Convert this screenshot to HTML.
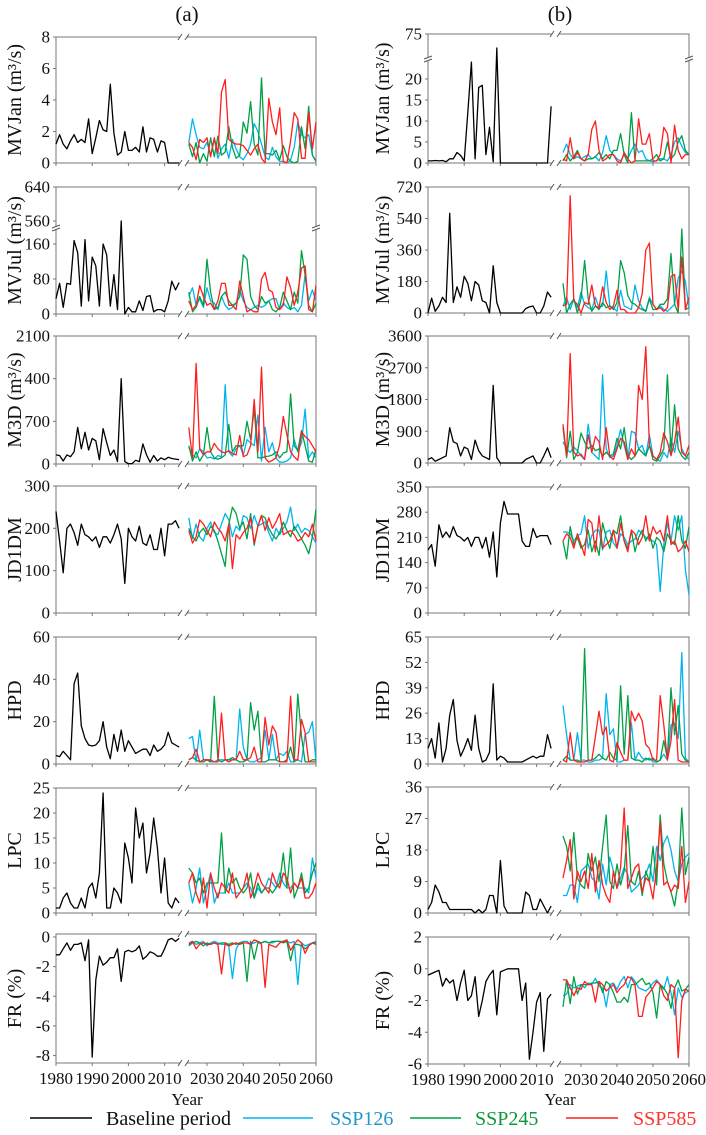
<!DOCTYPE html>
<html><head><meta charset="utf-8">
<style>
html,body{margin:0;padding:0;background:#fff;}
svg, svg text{font-family:"Liberation Serif","DejaVu Serif",serif;}
</style></head>
<body>
<svg id="chart" width="706" height="1130" viewBox="0 0 706 1130" xmlns="http://www.w3.org/2000/svg" font-family="Liberation Serif, serif">
<rect x="0" y="0" width="706" height="1130" fill="#fff"/>
</svg>
<script>
const baseYears0 = 1980;
const futYears0 = 2025;
const xTickYears = [1980,1990,2000,2010,2030,2040,2050,2060];

// ---------- Panel (a) data ----------
const aJanBase=[1.2,1.8,1.2,0.9,1.4,1.8,1.3,1.5,1.3,2.8,0.6,1.6,2.7,2.1,2.0,5.0,1.9,0.5,0.7,2.0,0.8,0.8,1.0,0.7,2.3,0.7,1.6,1.5,0.7,1.4,1.3,0,0,0,0];
const aJan126=[1.3,2.8,1.8,1.0,0.9,1.3,0.5,1.5,0.3,0.9,1.2,0.3,1.5,0.9,0.4,0.2,0.6,1.2,2.5,2.0,1.2,0.4,0.2,1.0,0.4,0.1,0.1,0.0,0.2,1.0,2.6,1.8,1.6,1.8,0.5,0.1];
const aJan245=[1.2,0.4,1.3,0.0,0.6,0.1,1.6,0.4,1.7,0.5,0.7,2.3,1.0,0.3,0.5,2.6,1.9,3.9,1.2,0.5,5.4,0.6,0.6,0.5,0.8,0.2,1.1,0.4,0.1,0.0,0.1,2.3,0.9,3.6,0.5,0.1];
const aJan585=[1.3,1.0,0.2,1.5,1.3,1.6,0.4,1.6,0.6,4.5,5.3,1.5,1.3,1.2,1.2,1.1,0.8,0.5,0.9,1.2,0.3,0.0,4.1,2.6,1.8,3.5,0.1,0.0,1.4,3.2,2.8,0.3,0.3,3.2,0.9,2.6];

const aJulBase=[35,70,15,70,68,168,140,18,170,30,130,110,18,160,135,18,90,10,600,0,15,5,5,30,8,40,42,5,10,10,5,30,75,55,72];
const aJul126=[40,60,20,35,15,60,30,25,10,40,20,10,15,25,55,30,15,10,15,20,15,20,30,35,35,10,25,15,10,15,5,20,90,30,55,30];
const aJul245=[50,5,15,40,20,125,50,10,15,40,50,30,20,25,40,135,125,40,20,10,40,25,30,10,5,15,50,30,10,50,25,145,90,20,5,25];
const aJul585=[30,10,20,65,40,20,25,10,30,70,70,20,20,10,75,40,5,10,5,5,80,95,55,50,15,10,20,85,60,20,50,105,110,10,5,65];

const aM3DBase=[150,140,50,150,120,200,600,250,520,230,420,380,70,580,350,140,230,40,1400,40,5,5,60,40,330,150,30,140,50,100,70,110,90,80,70];
const aM3D126=[270,150,100,250,200,100,110,80,140,120,1300,200,130,250,300,150,400,350,300,800,50,600,200,350,100,30,30,50,100,400,200,350,900,100,200,100];
const aM3D245=[300,50,200,50,150,600,200,100,80,100,150,650,200,300,300,300,700,400,900,100,100,120,130,150,200,100,180,200,1150,300,220,550,300,50,30,250];
const aM3D585=[600,100,1650,250,150,200,200,340,250,200,180,220,170,150,470,120,150,300,1060,200,1590,100,30,60,100,320,780,480,200,120,60,530,450,400,300,200];

const aJDBase=[240,170,95,200,210,190,160,210,185,180,170,180,155,180,180,165,185,210,175,70,200,180,170,205,165,160,185,150,150,200,135,210,210,218,200];
const aJD126=[225,175,210,180,170,200,215,190,185,210,235,220,180,205,195,230,225,200,230,205,210,215,190,170,200,185,200,215,250,195,210,190,200,195,180,165];
const aJD245=[200,180,170,190,200,185,205,195,170,140,110,210,250,235,200,215,175,235,160,205,230,225,200,185,175,190,215,195,180,205,190,175,160,140,180,245];
const aJD585=[195,165,180,220,210,195,180,215,200,190,170,210,105,185,175,190,200,225,165,205,230,195,225,200,215,235,185,190,195,185,170,175,190,180,210,170];

const aHPDBase=[4,3.5,6,4,2,38,43,18,12,9,8.5,9,11,20,8,2.5,14,6,16,6,11,8,5,6,7,7,4,9,6,7,9,15,10,9,8];
const aHPD126=[12,13,1,16,2,2,1,1,2,2,2,2,2,2,26,8,2,1,1,2,3,16,2,14,2,5,4,6,1,1,2,1,14,15,20,1];
const aHPD245=[2,3,2,1,1,2,1,32,2,1,2,2,3,2,1,1,2,29,16,25,1,1,2,2,2,1,1,2,8,1,33,13,1,1,2,2];
const aHPD585=[2,3,7,1,2,2,2,1,1,24,2,1,2,2,6,2,2,3,8,1,1,22,9,18,15,1,1,1,32,2,2,21,15,1,1,1];

const aLPCBase=[1,1,3,4,2,1,1,3,1,5,6,3,8,24,1,1,5,4,2,14,11,6,21,15,18,8,12,19,13,4,11,2,1,3,2];
const aLPC126=[6,2,5,9,2,5,8,2,4,4,4,6,4,4,4,5,6,5,3,5,4,5,7,6,5,8,6,5,5,6,5,5,5,4,11,7];
const aLPC245=[9,8,6,7,4,6,6,6,6,16,4,9,6,7,5,4,5,8,3,6,4,5,5,4,5,6,12,5,13,3,5,8,4,5,8,10];
const aLPC585=[6,8,4,2,7,1,8,5,3,6,5,4,8,3,4,5,8,3,5,8,6,5,4,8,6,5,8,7,4,6,5,7,3,3,4,6];

const aFRBase=[-1.2,-1.2,-0.8,-0.4,-0.9,-0.5,-0.5,-0.4,-1.6,-0.2,-8.1,-2.9,-1.3,-1.9,-1.7,-1.4,-1.4,-0.8,-3.0,-1.0,-0.9,-1.0,-0.9,-0.6,-1.5,-1.3,-1.0,-1.1,-1.3,-1.3,-0.8,-0.2,-0.1,-0.3,-0.1];
const aFR126=[-0.4,-0.3,-0.5,-0.4,-0.3,-0.6,-0.4,-0.3,-0.4,-0.5,-0.5,-0.6,-2.8,-0.8,-0.4,-0.3,-0.3,-0.5,-0.4,-0.3,-0.4,-0.3,-0.4,-0.4,-0.3,-0.3,-0.3,-0.3,-0.4,-0.3,-3.2,-0.4,-0.6,-0.5,-0.4,-0.3];
const aFR245=[-0.6,-0.4,-0.3,-0.4,-0.6,-0.4,-0.5,-0.4,-0.5,-0.4,-0.4,-0.5,-0.4,-0.5,-0.4,-0.4,-3.0,-0.3,-1.5,-0.4,-0.4,-0.3,-0.4,-0.3,-0.3,-0.3,-0.4,-0.3,-1.6,-0.5,-0.5,-0.6,-0.8,-0.6,-0.4,-0.4];
const aFR585=[-0.5,-0.3,-0.8,-0.5,-0.4,-0.5,-0.5,-0.4,-0.5,-2.5,-0.4,-0.6,-0.5,-0.4,-0.5,-0.4,-0.4,-0.5,-0.2,-0.3,-0.5,-3.4,-0.5,-0.6,-0.7,-0.4,-0.3,-0.2,-0.9,-0.5,-0.2,-0.4,-1.1,-0.6,-0.4,-0.5];

// ---------- Panel (b) data ----------
const bJanBase=[0.5,0.5,0.6,0.5,0.6,0.3,1,1,2.5,1.8,0.5,12,24,1,18,18.5,2,8.5,0.3,45,0,0,0,0,0,0,0,0,0,0,0,0,0,0,13.5];
const bJan126=[2.5,4.5,2,1,1.5,1,1.5,2,1,1.5,0.5,2.5,6.5,3,2,1,0.5,2,1,3,4.5,2.5,3,1,0.5,0.3,0.5,1,1,0.5,2,5,6,4,2.5,2];
const bJan245=[0.5,2,0.5,1.5,3,1,0.5,1,1,1.5,2.5,1,2,1,3,3,7,2,0,12,0.5,0.5,0.5,0.5,0.5,1,2,0.5,1,5,1,2,5,6.5,3,2];
const bJan585=[1,0.5,6,1,2.5,1,0.5,2,8,10,3,0.5,1,2,2,0.5,0,2.5,1,0,0.5,10.5,4.5,4.5,7,0.5,0.5,2,8.5,7,0,9,3,1,2,2];

const bJulBase=[0,85,10,40,90,60,570,60,150,90,210,170,70,180,160,70,60,0,270,60,0,0,0,0,0,0,0,25,35,40,0,0,40,120,90];
const bJul126=[40,90,20,80,30,120,50,30,20,90,30,40,240,40,30,10,130,40,30,20,160,70,30,10,90,50,20,40,20,10,30,50,200,240,180,30];
const bJul245=[170,0,50,80,0,80,300,80,10,40,20,60,30,40,20,60,300,230,100,60,50,30,20,10,80,20,20,50,50,80,340,50,0,480,20,30];
const bJul585=[40,50,670,70,50,0,60,50,160,40,30,150,60,20,40,130,20,20,0,0,0,30,110,360,400,50,20,30,10,30,210,220,20,320,20,90];

const bM3DBase=[100,150,50,100,150,200,1000,600,550,200,450,400,100,650,350,200,150,100,2200,150,0,0,0,0,0,0,0,100,150,200,0,0,200,430,150];
const bM3D126=[600,400,300,450,350,200,100,1100,300,200,100,2500,400,150,200,500,950,500,100,900,850,400,500,200,800,200,100,50,300,150,700,300,900,400,200,100];
const bM3D245=[1000,150,900,100,300,850,600,400,500,350,400,200,300,200,250,700,400,1000,200,100,200,400,300,200,500,100,50,200,400,2500,300,1650,400,200,100,300];
const bM3D585=[1100,200,3100,300,200,250,100,800,300,750,600,100,1000,200,100,400,700,600,100,400,200,2200,1800,3300,500,200,100,300,850,600,200,600,1300,300,200,500];

const bJDBase=[175,190,130,245,210,225,210,240,215,210,200,210,185,210,210,180,210,155,225,100,250,310,275,275,275,275,200,185,185,235,210,215,215,215,190];
const bJD126=[225,225,220,200,215,220,270,180,215,230,230,175,225,230,195,180,220,210,190,200,205,230,220,210,205,200,190,60,190,250,200,270,230,270,120,50];
const bJD245=[200,150,240,190,210,180,190,230,170,200,160,250,210,180,230,220,270,200,180,230,170,210,230,200,220,180,210,200,170,220,200,190,270,200,180,240];
const bJD585=[200,220,210,180,220,190,160,260,250,170,270,180,190,200,230,180,250,200,170,230,220,190,210,270,200,240,220,230,200,270,190,200,170,180,200,170];

const bHPDBase=[8,13,3,21,1,8,25,33,12,4,8,13,7,25,8,1,2,6,41,2,4,3,1,1,1,1,1,2,3,4,3,4,4,15,8];
const bHPD126=[30,15,2,2,16,2,2,1,1,2,2,3,36,15,18,1,1,2,2,21,2,6,3,2,3,1,1,2,5,2,20,21,13,57,3,1];
const bHPD245=[2,4,2,2,2,1,59,2,2,3,5,3,2,6,3,2,40,5,35,3,2,2,1,3,2,3,1,2,12,3,39,15,30,5,2,1];
const bHPD585=[2,1,16,2,1,1,1,2,2,14,27,15,19,2,1,11,6,2,2,27,22,26,22,10,8,2,2,35,20,2,12,33,2,1,1,1];

const bLPCBase=[1,3,8,6,3,3,1,1,1,1,1,1,1,0,1,0,1,5,5,0,15,2,0,0,0,0,0,6,5,1,1,4,2,0,2];
const bLPC126=[5,5,8,8,3,12,13,14,10,9,4,14,8,16,12,7,10,13,11,6,7,8,10,11,14,9,19,15,20,22,18,12,9,14,16,17];
const bLPC245=[22,19,12,23,10,8,7,17,12,16,9,19,28,9,7,14,8,12,25,9,8,12,5,12,9,19,8,28,14,9,6,2,9,30,11,16];
const bLPC585=[10,15,21,4,12,9,12,7,17,6,15,8,5,3,12,7,13,30,7,10,13,14,6,10,9,4,13,26,8,9,6,8,7,19,3,9];

const bFRBase=[-0.4,-0.3,-0.2,-0.1,-1.1,-0.6,-0.9,-0.7,-2.0,-0.9,-0.1,-2.0,-1.7,-0.5,-3.0,-2.0,-0.8,-0.4,-0.1,-2.9,-0.2,-0.1,0,0,0,0,-2.0,-0.9,-5.7,-4.0,-2.1,-1.5,-5.2,-1.9,-1.6];
const bFR126=[-1.7,-1.6,-1.0,-1.2,-1.1,-1.0,-1.2,-0.9,-1.0,-0.6,-1.1,-1.2,-2.4,-1.0,-0.9,-1.3,-0.8,-0.5,-1.2,-0.5,-0.8,-1.2,-1.3,-1.4,-1.2,-0.9,-0.7,-1.0,-1.3,-0.5,-1.5,-2.9,-1.2,-1.8,-1.5,-1.4];
const bFR245=[-2.4,-0.7,-2.2,-0.5,-1.6,-1.0,-1.0,-1.0,-0.9,-0.9,-0.8,-1.5,-0.8,-1.0,-1.5,-2.1,-2.1,-1.8,-2.1,-1.0,-1.0,-0.8,-0.6,-1.0,-0.9,-1.5,-3.1,-1.0,-1.2,-1.6,-2.5,-1.2,-0.7,-1.4,-1.3,-1.0];
const bFR585=[-0.7,-0.7,-1.2,-1.7,-1.2,-1.3,-0.8,-1.0,-1.0,-2.1,-0.8,-1.0,-1.4,-1.2,-1.0,-1.5,-1.2,-1.0,-0.5,-0.6,-1.0,-3.0,-3.0,-1.8,-1.5,-1.2,-0.8,-1.0,-1.7,-2.0,-1.0,-1.2,-5.6,-2.0,-1.3,-1.4];

const colBase="#000", col126="#00b4ee", col245="#00a046", col585="#ff1e1e";
const NS="http://www.w3.org/2000/svg";
const FONT="Liberation Serif, DejaVu Serif, serif";
const svg=document.getElementById('chart');
function mk(tag,attrs,parent){const e=document.createElementNS(NS,tag);for(const k in attrs)e.setAttribute(k,attrs[k]);if(tag==='text'){e.setAttribute('font-family',FONT);}(parent||svg).appendChild(e);return e;}
function lin(min,max,top,bot){return v=>bot-(v-min)/(max-min)*(bot-top);}

const rowTops=[37,187,336,486,637,788,934];
const rowBots=[163,314,464,613,764,913,1063];
const bRowTops=[34,187,336,487,637,787,937];
const bRowBots=[163,313,463,613,764,913,1064];

function aJulMap(v){ if(v<=190) return 314-v*35/80; return Math.max(221-(v-560)*34/80, 221); }
function bJanMap(v){ if(v<=25) return 163-v*4.2; return Math.max(58-(v-25)*0.5, 40); }

const panels=[
 {side:'a',row:0,title:'MVJan (m³/s)',name:'a-mvjan',map:lin(0,8,37,163),ticks:[[0,'0'],[2,'2'],[4,'4'],[6,'6'],[8,'8']],d:[aJanBase,aJan126,aJan245,aJan585]},
 {side:'a',row:1,title:'MVJul (m³/s)',name:'a-mvjul',map:aJulMap,ticks:[[0,'0'],[80,'80'],[160,'160'],[560,'560'],[640,'640']],tickY:{560:221,640:187},ybreak:228,d:[aJulBase,aJul126,aJul245,aJul585]},
 {side:'a',row:2,title:'M3D (m³/s)',name:'a-m3d',map:lin(0,2100,336,464),ticks:[[0,'0'],[700,'700'],[1400,'400'],[2100,'2100']],d:[aM3DBase,aM3D126,aM3D245,aM3D585]},
 {side:'a',row:3,title:'JD1DM',name:'a-jd1dm',map:lin(0,300,486,613),ticks:[[0,'0'],[100,'100'],[200,'200'],[300,'300']],d:[aJDBase,aJD126,aJD245,aJD585]},
 {side:'a',row:4,title:'HPD',name:'a-hpd',map:lin(0,60,637,764),ticks:[[0,'0'],[20,'20'],[40,'40'],[60,'60']],d:[aHPDBase,aHPD126,aHPD245,aHPD585]},
 {side:'a',row:5,title:'LPC',name:'a-lpc',map:lin(0,25,788,913),ticks:[[0,'0'],[5,'5'],[10,'10'],[15,'15'],[20,'20'],[25,'25']],d:[aLPCBase,aLPC126,aLPC245,aLPC585]},
 {side:'a',row:6,title:'FR (%)',name:'a-fr',map:lin(-8.5,0.2,934,1063),ticks:[[0,'0'],[-2,'-2'],[-4,'-4'],[-6,'-6'],[-8,'-8']],d:[aFRBase,aFR126,aFR245,aFR585]},
 {side:'b',row:0,title:'MVJan (m³/s)',name:'b-mvjan',map:bJanMap,ticks:[[0,'0'],[5,'5'],[10,'10'],[15,'15'],[20,'20'],[75,'75']],tickY:{75:34},ybreak:59,d:[bJanBase,bJan126,bJan245,bJan585]},
 {side:'b',row:1,title:'MVJul (m³/s)',name:'b-mvjul',map:lin(0,720,187,313),ticks:[[0,'0'],[180,'180'],[360,'360'],[540,'540'],[720,'720']],d:[bJulBase,bJul126,bJul245,bJul585]},
 {side:'b',row:2,title:'M3D (m³/s)',name:'b-m3d',map:lin(0,3600,336,463),ticks:[[0,'0'],[900,'900'],[1800,'1800'],[2700,'2700'],[3600,'3600']],d:[bM3DBase,bM3D126,bM3D245,bM3D585]},
 {side:'b',row:3,title:'JD1DM',name:'b-jd1dm',map:lin(0,350,487,613),ticks:[[0,'0'],[70,'70'],[140,'140'],[210,'210'],[280,'280'],[350,'350']],d:[bJDBase,bJD126,bJD245,bJD585]},
 {side:'b',row:4,title:'HPD',name:'b-hpd',map:lin(0,65,637,764),ticks:[[0,'0'],[13,'13'],[26,'26'],[39,'39'],[52,'52'],[65,'65']],d:[bHPDBase,bHPD126,bHPD245,bHPD585]},
 {side:'b',row:5,title:'LPC',name:'b-lpc',map:lin(0,36,787,913),ticks:[[0,'0'],[9,'9'],[18,'18'],[27,'27'],[36,'36']],d:[bLPCBase,bLPC126,bLPC245,bLPC585]},
 {side:'b',row:6,title:'FR (%)',name:'b-fr',map:lin(-6,2,937,1064),ticks:[[2,'2'],[0,'0'],[-2,'-2'],[-4,'-4'],[-6,'-6']],d:[bFRBase,bFR126,bFR245,bFR585]},
];

const sides={a:{L:56,R:316,b2030:207,titleX:14,cx:187},b:{L:428,R:689,b2030:581,titleX:382,cx:560}};
function xOf(side,yr){const s=sides[side];return yr<2020? s.L+(yr-1980)*3.62 : s.b2030+(yr-2030)*(s.R-s.b2030)/30;}

panels.forEach(p=>{
  const s=sides[p.side];
  const top=p.side==='a'?rowTops[p.row]:bRowTops[p.row];
  const bot=p.side==='a'?rowBots[p.row]:bRowBots[p.row];
  const g=mk('g',{});
  
  
  const gx1=s.L+124, gx2=s.L+131;
  const fr=mk('path',{d:`M${gx1},${top}H${s.L}V${bot}H${gx1} M${gx2},${bot}H${s.R}V${top}H${gx2}`,fill:'none',stroke:'#777','stroke-width':1},g);
  
  
  [top,bot].forEach(yy=>{
    const br=mk('path',{d:`M${gx1-2},${yy+3}L${gx1+2},${yy-3} M${gx2-2},${yy+3}L${gx2+2},${yy-3}`,stroke:'#555','stroke-width':1},g);
    
    
  });
  if(p.ybreak){
    [s.L,s.R].forEach(xx=>{
      mk('rect',{x:xx-4,y:p.ybreak-2,width:8,height:4,fill:'#fff'},g);
      const yb=mk('path',{d:`M${xx-4},${p.ybreak}L${xx+4},${p.ybreak-3} M${xx-4},${p.ybreak+3}L${xx+4},${p.ybreak}`,stroke:'#555','stroke-width':1},g);
      
      
    });
  }
  xTickYears.forEach(yr=>{
    const xx=xOf(p.side,yr);
    mk('line',{x1:xx,x2:xx,y1:bot,y2:bot+3,stroke:'#777','stroke-width':1},g);
    if(p.row===6){
      const t=mk('text',{x:xx,y:bot+21,'text-anchor':'middle','font-size':17,fill:'#111'},g);
      t.textContent=yr;
      
      
    }
  });
  p.ticks.forEach(([v,lab])=>{
    const yy=(p.tickY&&p.tickY[v]!==undefined)?p.tickY[v]:p.map(v);
    mk('line',{x1:s.L-3,x2:s.L,y1:yy,y2:yy,stroke:'#777','stroke-width':1},g);
    const t=mk('text',{x:s.L-6,y:yy+5.5,'text-anchor':'end','font-size':17,fill:'#111'},g);
    t.textContent=lab;
    
    
  });
  const midY=(top+bot)/2;
  const tt=mk('text',{x:s.titleX,y:midY,'text-anchor':'middle','font-size':20,fill:'#111',transform:`rotate(-90 ${s.titleX} ${midY})`,dy:7},g);
  tt.textContent=p.title;
  
  
  const cols=[colBase,col126,col245,col585];
  const names=['baseline','ssp126','ssp245','ssp585'];
  [1,2,3,0].forEach(si=>{
    const arr=p.d[si];
    const y0=si===0?baseYears0:futYears0;
    const pts=arr.map((v,i)=>xOf(p.side,y0+i).toFixed(1)+','+p.map(v).toFixed(1)).join(' ');
    const pl=mk('polyline',{points:pts,fill:'none',stroke:cols[si],'stroke-width':1.3,'stroke-linejoin':'round'},g);
    
    
  });
});

[['a','(a)'],['b','(b)']].forEach(([sd,lab])=>{
  const t=mk('text',{x:sides[sd].cx,y:21,'text-anchor':'middle','font-size':21,fill:'#111'});
  t.textContent=lab;
  
  
  const y=mk('text',{x:sides[sd].cx,y:1105,'text-anchor':'middle','font-size':17,fill:'#111'});
  y.textContent='Year';
  
  
});

const legend=[[30,92,colBase,'Baseline period',106,'#111'],[243,313,col126,'SSP126',330,'#1f97c8'],[410,461,col245,'SSP245',475,'#0a9a3a'],[566,618,col585,'SSP585',633,'#ff3030']];
legend.forEach(([x1,x2,c,lab,tx,tc])=>{
  const g=mk('g',{});
  
  
  mk('line',{x1:x1,x2:x2,y1:1118,y2:1118,stroke:c,'stroke-width':1.5},g);
  const t=mk('text',{x:tx,y:1125,'font-size':20,fill:tc},g);
  t.textContent=lab;
});
</script>
</body></html>
